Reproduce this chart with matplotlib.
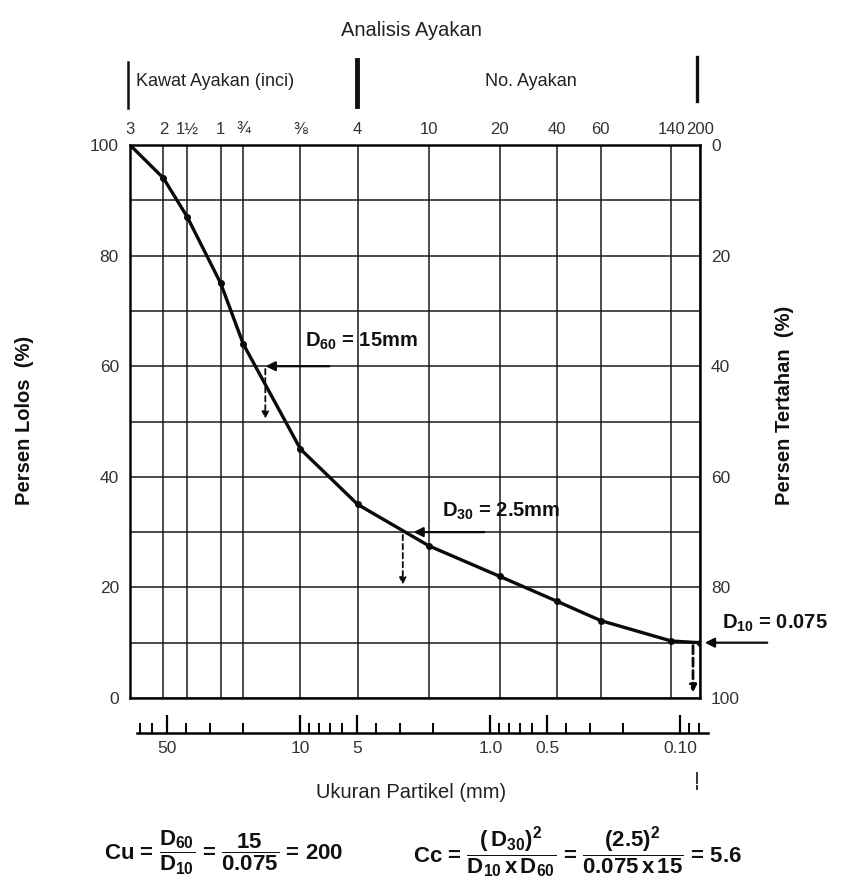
import numpy as np
import matplotlib
matplotlib.use("Agg")
import matplotlib.pyplot as plt
from matplotlib.lines import Line2D
from matplotlib.ticker import NullLocator, FixedLocator

plt.rcParams['font.family'] = ['Liberation Sans', 'DejaVu Sans']
plt.rcParams['mathtext.fontset'] = 'custom'
plt.rcParams['mathtext.rm'] = 'Liberation Sans:bold'
plt.rcParams['mathtext.it'] = 'Liberation Sans:bold'
plt.rcParams['mathtext.bf'] = 'Liberation Sans:bold'

# ---------------- data ----------------
sieve_mm = [75, 50, 37.5, 25, 19, 9.5, 4.75, 2.0, 0.85, 0.425, 0.25, 0.106, 0.075]
sieve_labels = ["3", "2", "1½", "1", "¾", "⅜", "4", "10", "20", "40", "60", "140", "200"]
percent_passing = [100, 94, 87, 75, 64, 45, 35, 27.5, 22, 17.5, 14, 10.3, 10]

left_ticks = [0, 20, 40, 60, 80, 100]
right_ticks = [0, 20, 40, 60, 80, 100]
bottom_major = [50, 10, 5, 1.0, 0.5, 0.10]
bottom_major_labels = ["50", "10", "5", "1.0", "0.5", "0.10"]
bottom_minor = [70, 60, 40, 30, 20, 9, 8, 7, 6, 4, 3, 2, 0.9, 0.8, 0.7, 0.6, 0.4, 0.3, 0.2, 0.09, 0.08]

D60, D30, D10 = 15, 2.5, 0.075

W, H = 843, 884
fig = plt.figure(figsize=(W / 100, H / 100), dpi=100)


def fx(px):
    return px / W


def fy(py):
    return 1 - py / H


# main axes (pixel box 130..700 x 145..698)
ax = fig.add_axes([fx(130), fy(698), (700 - 130) / W, (698 - 145) / H])
ax.set_xscale('log')
ax.set_xlim(75, 0.075)
ax.set_ylim(0, 100)
ax.xaxis.set_minor_locator(NullLocator())
ax.xaxis.set_major_locator(FixedLocator(sieve_mm))
ax.set_xticklabels(sieve_labels)
ax.xaxis.tick_top()
ax.tick_params(axis='x', which='both', length=0, pad=6, labelsize=12, labelcolor='#333')
ax.set_yticks(left_ticks)
ax.set_yticks(np.arange(0, 101, 10), minor=True)
ax.tick_params(axis='y', which='both', length=0, pad=8, labelsize=12.5, labelcolor='#333')
ax.grid(True, which='major', color='#1a1a1a', lw=1.1)
ax.grid(True, which='minor', axis='y', color='#1a1a1a', lw=1.1)
for s in ax.spines.values():
    s.set_linewidth(1.8)
    s.set_color('#111')

ax.plot(sieve_mm, percent_passing, color='#0a0a0a', lw=2.4, marker='o', ms=4, zorder=5,
        solid_joinstyle='round')

# right axis
axr = ax.twinx()
axr.set_ylim(100, 0)
axr.set_yticks(right_ticks)
axr.tick_params(axis='y', length=0, pad=8, labelsize=12.5, labelcolor='#333')

# annotations
arrowkw = dict(arrowstyle='-|>', color='#0a0a0a', lw=1.6, mutation_scale=14)


def px_to_mm(px):
    return 75 / 10 ** ((px - 130) / 190)


lab_kw = dict(fontsize=14.5, fontweight='bold', va='center', color='#111')

# D60
ax.annotate('', xy=(D60, 60), xytext=(px_to_mm(332), 60), arrowprops=arrowkw, zorder=6)
ax.annotate('', xy=(D60 * 0.97, 50), xytext=(D60 * 0.97, 60),
            arrowprops=dict(arrowstyle='-|>', color='#0a0a0a', lw=1.3, ls=(0, (3, 2)),
                            mutation_scale=10), zorder=6)
fig.text(fx(305), fy(341), r'$\mathregular{D_{60}}$ = 15mm', **lab_kw)

# D30
ax.annotate('', xy=(D30, 30), xytext=(px_to_mm(487), 30), arrowprops=arrowkw, zorder=6)
ax.annotate('', xy=(D30 * 1.1, 20), xytext=(D30 * 1.1, 30),
            arrowprops=dict(arrowstyle='-|>', color='#0a0a0a', lw=1.3, ls=(0, (3, 2)),
                            mutation_scale=10), zorder=6)
fig.text(fx(442), fy(511), r'$\mathregular{D_{30}}$ = 2.5mm', **lab_kw)

# D10
ax.annotate('', xy=(px_to_mm(702), 10), xytext=(px_to_mm(770), 10), arrowprops=arrowkw,
            annotation_clip=False, zorder=6)
ax.annotate('', xy=(px_to_mm(693), 0.5), xytext=(px_to_mm(693), 10),
            arrowprops=dict(arrowstyle='-|>', color='#0a0a0a', lw=2.0, ls=(0, (3, 1.5)),
                            mutation_scale=10), zorder=6)
fig.text(fx(722), fy(623), r'$\mathregular{D_{10}}$ = 0.075', **lab_kw)

# bottom particle size scale
x0 = 134
lo = 10 ** (np.log10(75) - (137 - x0) / 190)
hi = 10 ** (np.log10(75) - (708 - x0) / 190)
axb = fig.add_axes([fx(137), fy(733), (708 - 137) / W, 0.001])
axb.set_xscale('log')
axb.set_xlim(lo, hi)
axb.set_yticks([])
for side in ['top', 'left', 'right']:
    axb.spines[side].set_visible(False)
axb.spines['bottom'].set_linewidth(1.8)
axb.patch.set_alpha(0)
axb.xaxis.set_major_locator(FixedLocator(bottom_major))
axb.set_xticklabels(bottom_major_labels)
axb.xaxis.set_minor_locator(FixedLocator(bottom_minor))
axb.tick_params(axis='x', which='major', direction='in', length=13, width=1.6, pad=6,
                labelsize=12.5, labelcolor='#333')
axb.tick_params(axis='x', which='minor', direction='in', length=7, width=1.4)

# axis titles
fig.text(fx(411), fy(30), 'Analisis Ayakan', fontsize=14.5, ha='center', va='center', color='#222')
fig.text(fx(136), fy(82), 'Kawat Ayakan (inci)', fontsize=13, ha='left', va='center', color='#222')
fig.text(fx(531), fy(82), 'No. Ayakan', fontsize=13, ha='center', va='center', color='#222')
fig.text(fx(411), fy(793), 'Ukuran Partikel (mm)', fontsize=14.5, ha='center', va='center', color='#222')
fig.text(fx(25), fy(420), 'Persen Lolos  (%)', fontsize=14.5, fontweight='bold', rotation=90,
         ha='center', va='center', color='#111')
fig.text(fx(784), fy(405), 'Persen Tertahan  (%)', fontsize=14.5, fontweight='bold', rotation=90,
         ha='center', va='center', color='#111')

# vertical bars at top
fig.add_artist(Line2D([fx(128), fx(128)], [fy(62), fy(108)], color='#111', lw=1.8))
fig.add_artist(Line2D([fx(357), fx(357)], [fy(60), fy(106)], color='#111', lw=3.5))
fig.add_artist(Line2D([fx(697), fx(697)], [fy(57), fy(101)], color='#111', lw=2.4))
# small mark below
fig.add_artist(Line2D([fx(697), fx(697)], [fy(773), fy(783)], color='#333', lw=1.4))
fig.add_artist(Line2D([fx(697), fx(697)], [fy(786), fy(789)], color='#333', lw=1.4))

# formulas
fkw = dict(fontsize=16, fontweight='bold', ha='left', va='center', color='#111')
fig.text(fx(104), fy(853),
         r'Cu = $\mathregular{\dfrac{D_{60}}{D_{10}}}$ = $\mathregular{\dfrac{15}{0.075}}$ = 200',
         **fkw)
fig.text(fx(413), fy(853),
         r'Cc = $\mathregular{\dfrac{(\,D_{30})^{2}}{D_{10}\,x\,D_{60}}}$ = '
         r'$\mathregular{\dfrac{(2.5)^{2}}{0.075\,x\,15}}$ = 5.6',
         **fkw)

fig.savefig('out.png', dpi=100)
